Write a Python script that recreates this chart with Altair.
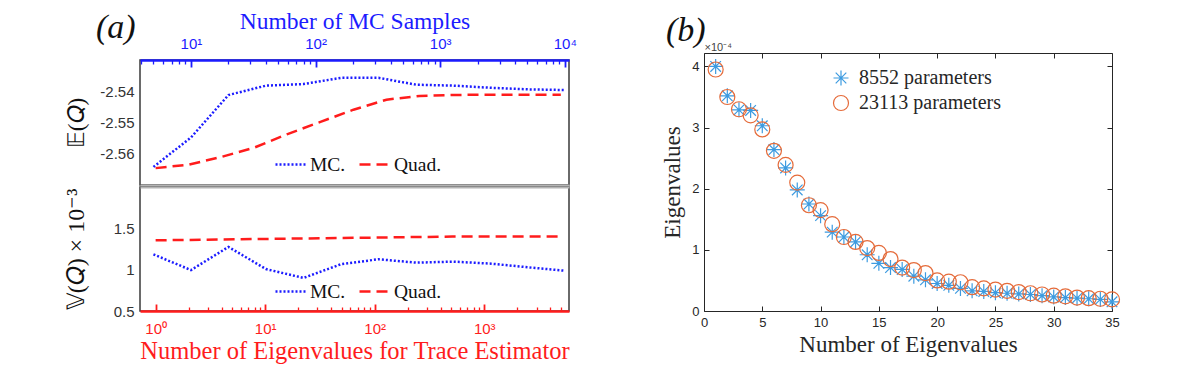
import altair as alt
import pandas as pd

SERIF = "Liberation Serif"
SANS = "Liberation Sans"

# ---------------- panel (a) data ----------------
series_names = ["MC.", "Quad."]
series_colors = ["#1c1cff", "#ff1c1c"]
series_dashes = [[2, 2], [11, 6]]

mc_samples = [5, 10, 20, 40, 80, 160, 320, 640, 1280, 2560, 5120, 10000]
mc_mean = [-2.5642, -2.5548, -2.5412, -2.5382, -2.5377, -2.5357,
           -2.5357, -2.5379, -2.5382, -2.5389, -2.5394, -2.5396]
mc_var = [1.185, 0.995, 1.275, 1.007, 0.900, 1.066,
          1.126, 1.085, 1.097, 1.073, 1.028, 0.987]

n_eig = [1, 2, 4, 8, 16, 32, 64, 128, 256, 512, 1024, 5000]
quad_mean = [-2.5646, -2.5635, -2.5610, -2.5580, -2.5537, -2.5498,
             -2.5459, -2.5427, -2.5415, -2.5412, -2.5411, -2.5411]
quad_var = [1.355, 1.360, 1.365, 1.370, 1.375, 1.380,
            1.385, 1.390, 1.395, 1.400, 1.400, 1.400]

mc_major = [10, 100, 1000, 10000]
mc_major_labels = ["10¹", "10²", "10³", "10⁴"]
mc_minor = [4, 5, 6, 7, 8, 9, 20, 30, 40, 50, 60, 70, 80, 90,
            200, 300, 400, 500, 600, 700, 800, 900,
            2000, 3000, 4000, 5000, 6000, 7000, 8000, 9000]
eig_major = [1, 10, 100, 1000]
eig_major_labels = ["10⁰", "10¹", "10²", "10³"]
eig_minor = [2, 3, 4, 5, 6, 7, 8, 9, 20, 30, 40, 50, 60, 70, 80, 90,
             200, 300, 400, 500, 600, 700, 800, 900, 2000, 3000, 4000, 5000]
mean_ticks = [-2.56, -2.55, -2.54]
var_ticks = [0.5, 1, 1.5]

# ---------------- panel (b) data ----------------
b_series = ["8552 parameters", "23113 parameters"]
b_colors = ["#3d9be0", "#e56b3a"]
eig_index = list(range(1, 36))
eig_8552 = [4.00, 3.52, 3.29, 3.28, 3.03, 2.64, 2.34, 1.98, 1.75, 1.56,
            1.29, 1.21, 1.13, 0.92, 0.78, 0.71, 0.68, 0.57, 0.51, 0.45,
            0.42, 0.37, 0.33, 0.32, 0.30, 0.29, 0.28, 0.27, 0.25, 0.23,
            0.22, 0.21, 0.20, 0.19, 0.15]
eig_23113 = [3.95, 3.50, 3.30, 3.20, 2.97, 2.62, 2.39, 2.10, 1.73, 1.65,
             1.42, 1.21, 1.13, 1.03, 0.95, 0.85, 0.71, 0.67, 0.62, 0.50,
             0.48, 0.47, 0.39, 0.37, 0.35, 0.33, 0.31, 0.29, 0.27, 0.25,
             0.24, 0.22, 0.21, 0.20, 0.19]
b_x_ticks = [0, 5, 10, 15, 20, 25, 30, 35]
b_y_ticks = [0, 1, 2, 3, 4]

ASTERISK = ("M-1,0L1,0M0,-1L0,1M-0.707,-0.707L0.707,0.707"
            "M-0.707,0.707L0.707,-0.707")

W = 429
H_TOP = 125
H_BOT = 124
H_B = 251      # panel (b) height below the shared top line
B_RAISE = 7    # panel (b) frame starts this many px above the shared top line


def major_test(values):
    return "indexof([" + ",".join(str(v) for v in values) + "], datum.value) >= 0"


def log_label_expr(values, labels):
    arr = "[" + ",".join(str(v) for v in values) + "]"
    lab = "[" + ",".join("'" + l + "'" for l in labels) + "]"
    return f"indexof({arr}, datum.value) >= 0 ? {lab}[indexof({arr}, datum.value)] : ''"


def log_axis(orient, major, minor, labels, color, title, label_pad, title_pad, tsize):
    return alt.Axis(
        orient=orient,
        values=sorted(major + minor),
        labelExpr=log_label_expr(major, labels),
        labelFont=SANS, labelFontSize=15, labelColor=color,
        labelOverlap=False, labelFlush=False, labelPadding=label_pad,
        tickColor=color,
        tickWidth={"condition": {"test": major_test(major), "value": 1.8}, "value": 1.3},
        tickSize={"condition": {"test": major_test(major), "value": -7}, "value": -4},
        domainColor=color, domainWidth=2.5,
        title=title, titleFont=SERIF, titleFontSize=tsize, titleFontWeight="normal",
        titleColor=color, titlePadding=title_pad,
        grid=False,
    )


def hidden_axis(orient):
    return alt.Axis(orient=orient, labels=False, ticks=False, title=None,
                    domainColor="#b4b4b4", domainWidth=2, grid=False)


def y_axis_a(ticks, title, expr, size, h):
    return alt.Axis(
        values=ticks, labelExpr=expr, labelFont=SANS, labelFontSize=15,
        labelColor="#333333", labelPadding=6, ticks=False, domain=False, grid=False,
        title=title, titleFont=SERIF, titleFontSize=size, titleFontWeight="normal",
        titleColor="#111111", titleX=-64, titleY=h / 2, titleAnchor="middle",
        titleBaseline="middle",
    )


color_scale = alt.Scale(domain=series_names, range=series_colors)
dash_scale = alt.Scale(domain=series_names, range=series_dashes)


def legend_a():
    return alt.Legend(
        orient="none", legendX=134, legendY=88, direction="horizontal", title=None,
        symbolType="stroke", symbolSize=900, symbolStrokeWidth=2.5,
        labelFont=SERIF, labelFontSize=19.5, labelColor="#111111",
        labelOffset=3, columnPadding=8, padding=0,
    )


mc_scale = alt.Scale(type="log", domain=[3.9, 10800], nice=False)
eig_scale = alt.Scale(type="log", domain=[0.72, 5940], nice=False)
mean_scale = alt.Scale(domain=[-2.57, -2.53], nice=False, zero=False)
var_scale = alt.Scale(domain=[0.5, 2.0], nice=False, zero=False)

top_mc = pd.DataFrame({"mc": mc_samples, "E": mc_mean, "series": "MC."})
top_quad = pd.DataFrame({"eig": n_eig, "E": quad_mean, "series": "Quad."})
bot_mc = pd.DataFrame({"mc": mc_samples, "V": mc_var, "series": "MC."})
bot_quad = pd.DataFrame({"eig": n_eig, "V": quad_var, "series": "Quad."})

mean_expr = "'-' + format(-datum.value, '.2f')"
var_expr = "format(datum.value, '~g')"

y_top = alt.Y("E:Q", scale=mean_scale,
              axis=y_axis_a(mean_ticks, "𝔼(𝑄)", mean_expr, 23, H_TOP))
y_bot = alt.Y("V:Q", scale=var_scale,
              axis=y_axis_a(var_ticks, "𝕍(𝑄) × 10⁻³", var_expr, 24, H_BOT))


def enc_series():
    return dict(
        color=alt.Color("series:N", scale=color_scale, legend=legend_a()),
        strokeDash=alt.StrokeDash("series:N", scale=dash_scale, legend=legend_a()),
    )


top_l1 = alt.Chart(top_mc).mark_line(strokeWidth=2.5).encode(
    x=alt.X("mc:Q", scale=mc_scale,
            axis=log_axis("top", mc_major, mc_minor, mc_major_labels, "#1c1cff",
                          "Number of MC Samples", 16, 0, 23.5)),
    y=y_top, **enc_series())
top_l2 = alt.Chart(top_quad).mark_line(strokeWidth=2.5).encode(
    x=alt.X("eig:Q", scale=eig_scale, axis=hidden_axis("bottom")),
    y=y_top, **enc_series())

top = alt.layer(top_l1, top_l2).resolve_scale(x="independent").properties(
    width=W, height=H_TOP,
    view=alt.ViewBackground(stroke="#3a3a3a", strokeWidth=1.5),
    title=alt.Title("(a)", anchor="start", frame="group", dx=-44, dy=40,
                    font=SERIF, fontStyle="italic", fontSize=34,
                    fontWeight="normal", color="#111111"),
)

bot_l1 = alt.Chart(bot_mc).mark_line(strokeWidth=2.5).encode(
    x=alt.X("mc:Q", scale=mc_scale, axis=hidden_axis("top")),
    y=y_bot, **enc_series())
bot_l2 = alt.Chart(bot_quad).mark_line(strokeWidth=2.5).encode(
    x=alt.X("eig:Q", scale=eig_scale,
            axis=log_axis("bottom", eig_major, eig_minor, eig_major_labels, "#ff1c1c",
                          "Number of Eigenvalues for Trace Estimator", 17, 0, 24.5)),
    y=y_bot, **enc_series())

bot = alt.layer(bot_l1, bot_l2).resolve_scale(x="independent").properties(
    width=W, height=H_BOT,
    view=alt.ViewBackground(stroke="#3a3a3a", strokeWidth=1.5),
)

left = alt.vconcat(top, bot, spacing=0).resolve_scale(
    color="independent", strokeDash="independent", y="independent"
).resolve_legend(color="independent", strokeDash="independent")

# ---------------- panel (b) chart ----------------
b_df = pd.DataFrame({
    "k": eig_index + eig_index,
    "lam": eig_8552 + eig_23113,
    "series": [b_series[0]] * len(eig_index) + [b_series[1]] * len(eig_index),
})

bx_scale = alt.Scale(domain=[0, 35], nice=False)
by_scale = alt.Scale(domain=[0, 4.22], nice=False, range=[H_B, -B_RAISE])

INWARD = {"expr": "-5"}


def b_axis(orient, ticks, labels, title, **kw):
    props = dict(
        orient=orient, values=ticks, labels=labels, grid=False,
        labelFont=SANS, labelFontSize=13, labelColor="#262626", labelPadding=10,
        labelFlush=False,
        tickSize=INWARD, tickColor="#262626", tickWidth=1,
        domainColor="#262626", domainWidth=1,
        title=title, titleFont=SERIF, titleFontSize=23, titleFontWeight="normal",
        titleColor="#262626",
    )
    props.update(kw)
    return alt.Axis(**props)


legend_b = alt.Legend(
    orient="none", legendX=127, legendY=8, title=None,
    symbolSize=225, symbolStrokeWidth=1.2, symbolFillColor="transparent",
    labelFont=SERIF, labelFontSize=20, labelColor="#262626",
    labelOffset=8, rowPadding=5, padding=0,
)

pts = alt.Chart(b_df).mark_point(filled=False, size=225, strokeWidth=1.2,
                                 opacity=1).encode(
    x=alt.X("k:Q", scale=bx_scale,
            axis=b_axis("bottom", b_x_ticks, True, "Number of Eigenvalues",
                        titlePadding=4)),
    y=alt.Y("lam:Q", scale=by_scale,
            axis=b_axis("left", b_y_ticks, True, "Eigenvalues", titlePadding=7)),
    color=alt.Color("series:N", scale=alt.Scale(domain=b_series, range=b_colors),
                    legend=legend_b),
    shape=alt.Shape("series:N", scale=alt.Scale(domain=b_series,
                                                range=[ASTERISK, "circle"]),
                    legend=legend_b),
)

frame = alt.Chart(b_df).mark_point(opacity=0).encode(
    x=alt.X("k:Q", scale=bx_scale,
            axis=b_axis("top", b_x_ticks, False, "×10⁻⁴", offset=B_RAISE,
                        titleX=0, titleY=-1, titleAlign="left",
                        titleFont=SANS, titleFontSize=11, titleColor="#444444",
                        titleBaseline="bottom")),
    y=alt.Y("lam:Q", scale=by_scale, axis=b_axis("right", b_y_ticks, False, None)),
)

right = alt.layer(pts, frame).resolve_axis(x="independent", y="independent").properties(
    width=408, height=H_B,
    view=alt.ViewBackground(stroke="transparent"),
    title=alt.Title("(b)", anchor="start", frame="group", dx=-38, dy=11,
                    font=SERIF, fontStyle="italic", fontSize=34,
                    fontWeight="normal", color="#111111"),
)

chart = alt.hconcat(left, right, spacing=83).resolve_scale(
    color="independent", shape="independent"
).properties(
    padding={"left": 55, "top": 0, "right": 5, "bottom": 2},
).configure_view(stroke=None)

chart.save("out.html", embed_options={"renderer": "svg", "actions": False})
